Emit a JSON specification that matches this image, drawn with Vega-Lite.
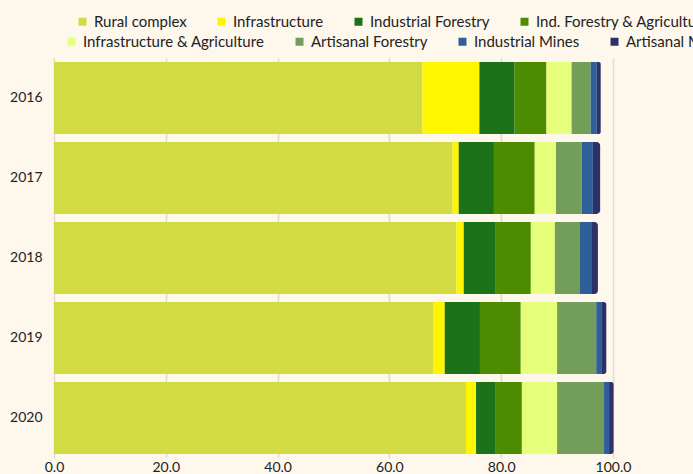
{
  "$schema": "https://vega.github.io/schema/vega-lite/v6.json",
  "autosize": "none",
  "width": 559,
  "height": 400,
  "padding": {"left": 54, "top": 58, "right": 80, "bottom": 16},
  "background": "#fdf7ec",
  "config": {
    "view": {"stroke": null},
    "font": "Lato",
    "axis": {"labelFont": "Lato", "labelFontSize": 14, "labelColor": "#222222"},
    "legend": {"labelFont": "Lato", "labelFontSize": 15, "labelColor": "#222222"}
  },
  "data": {
    "values": [
      {"year": "2016", "sector": "Rural complex", "value": 65.9},
      {"year": "2016", "sector": "Infrastructure", "value": 10.2},
      {"year": "2016", "sector": "Industrial Forestry", "value": 6.3},
      {"year": "2016", "sector": "Ind. Forestry & Agriculture", "value": 5.7},
      {"year": "2016", "sector": "Infrastructure & Agriculture", "value": 4.5},
      {"year": "2016", "sector": "Artisanal Forestry", "value": 3.4},
      {"year": "2016", "sector": "Industrial Mines", "value": 1.1},
      {"year": "2016", "sector": "Artisanal Mines", "value": 0.7},
      {"year": "2017", "sector": "Rural complex", "value": 71.3},
      {"year": "2017", "sector": "Infrastructure", "value": 1.1},
      {"year": "2017", "sector": "Industrial Forestry", "value": 6.3},
      {"year": "2017", "sector": "Ind. Forestry & Agriculture", "value": 7.3},
      {"year": "2017", "sector": "Infrastructure & Agriculture", "value": 3.8},
      {"year": "2017", "sector": "Artisanal Forestry", "value": 4.6},
      {"year": "2017", "sector": "Industrial Mines", "value": 2.0},
      {"year": "2017", "sector": "Artisanal Mines", "value": 1.3},
      {"year": "2018", "sector": "Rural complex", "value": 72.0},
      {"year": "2018", "sector": "Infrastructure", "value": 1.3},
      {"year": "2018", "sector": "Industrial Forestry", "value": 5.6},
      {"year": "2018", "sector": "Ind. Forestry & Agriculture", "value": 6.4},
      {"year": "2018", "sector": "Infrastructure & Agriculture", "value": 4.3},
      {"year": "2018", "sector": "Artisanal Forestry", "value": 4.5},
      {"year": "2018", "sector": "Industrial Mines", "value": 2.0},
      {"year": "2018", "sector": "Artisanal Mines", "value": 1.2},
      {"year": "2019", "sector": "Rural complex", "value": 67.9},
      {"year": "2019", "sector": "Infrastructure", "value": 2.0},
      {"year": "2019", "sector": "Industrial Forestry", "value": 6.3},
      {"year": "2019", "sector": "Ind. Forestry & Agriculture", "value": 7.3},
      {"year": "2019", "sector": "Infrastructure & Agriculture", "value": 6.5},
      {"year": "2019", "sector": "Artisanal Forestry", "value": 7.0},
      {"year": "2019", "sector": "Industrial Mines", "value": 0.9},
      {"year": "2019", "sector": "Artisanal Mines", "value": 0.9},
      {"year": "2020", "sector": "Rural complex", "value": 73.7},
      {"year": "2020", "sector": "Infrastructure", "value": 1.8},
      {"year": "2020", "sector": "Industrial Forestry", "value": 3.4},
      {"year": "2020", "sector": "Ind. Forestry & Agriculture", "value": 4.8},
      {"year": "2020", "sector": "Infrastructure & Agriculture", "value": 6.3},
      {"year": "2020", "sector": "Artisanal Forestry", "value": 8.4},
      {"year": "2020", "sector": "Industrial Mines", "value": 0.9},
      {"year": "2020", "sector": "Artisanal Mines", "value": 0.8}
    ]
  },
  "transform": [
    {"calculate": "indexof(['Rural complex', 'Infrastructure', 'Industrial Forestry', 'Ind. Forestry & Agriculture', 'Infrastructure & Agriculture', 'Artisanal Forestry', 'Industrial Mines', 'Artisanal Mines'], datum.sector)", "as": "rank"},
    {"stack": "value", "groupby": ["year"], "sort": [{"field": "rank", "order": "ascending"}], "as": ["x0", "x1"]}
  ],
  "encoding": {
    "y": {
      "field": "year",
      "type": "nominal",
      "scale": {"paddingInner": 0.1, "paddingOuter": 0.05},
      "axis": {"title": null, "ticks": false, "domain": false, "labelPadding": 12, "grid": false}
    },
    "x": {
      "field": "x0",
      "type": "quantitative",
      "scale": {"domain": [0, 100], "nice": false},
      "axis": {
        "title": null,
        "values": [0, 20, 40, 60, 80, 100],
        "format": ".1f",
        "ticks": false,
        "domain": false,
        "labelPadding": 2,
        "grid": true,
        "gridColor": "#e2dace",
        "gridWidth": 1.5,
        "labelFlush": false
      }
    },
    "x2": {"field": "x1"}
  },
  "layer": [
    {
      "transform": [{"filter": "datum.rank < 4"}],
      "mark": {"type": "bar"},
      "encoding": {
        "color": {
          "field": "sector",
          "type": "nominal",
          "scale": {
            "domain": ["Rural complex", "Infrastructure", "Industrial Forestry", "Ind. Forestry & Agriculture"],
            "range": ["#d3db42", "#fff500", "#1c7218", "#4d8c00"]
          },
          "legend": {
            "title": null,
            "orient": "none",
            "legendX": 21,
            "legendY": -44,
            "direction": "horizontal",
            "columns": 4,
            "columnPadding": 27,
            "symbolType": "square",
            "symbolSize": 64,
            "symbolStrokeWidth": 0,
            "labelOffset": 4,
            "labelLimit": 300,
            "padding": 0
          }
        }
      }
    },
    {
      "transform": [{"filter": "datum.rank >= 4 && datum.rank < 7"}],
      "mark": {"type": "bar"},
      "encoding": {
        "fill": {
          "field": "sector",
          "type": "nominal",
          "scale": {
            "domain": ["Infrastructure & Agriculture", "Artisanal Forestry", "Industrial Mines", "Artisanal Mines"],
            "range": ["#e6ff7a", "#739e59", "#2e5f99", "#2e3068"]
          },
          "legend": {
            "title": null,
            "orient": "none",
            "legendX": 10,
            "legendY": -24,
            "direction": "horizontal",
            "columns": 4,
            "columnPadding": 27,
            "symbolType": "square",
            "symbolSize": 64,
            "symbolStrokeWidth": 0,
            "labelOffset": 4,
            "labelLimit": 300,
            "padding": 0
          }
        }
      }
    },
    {
      "transform": [{"filter": "datum.rank == 7"}],
      "mark": {"type": "bar", "cornerRadiusTopRight": 4, "cornerRadiusBottomRight": 4},
      "encoding": {
        "fill": {"field": "sector", "type": "nominal"}
      }
    }
  ]
}
